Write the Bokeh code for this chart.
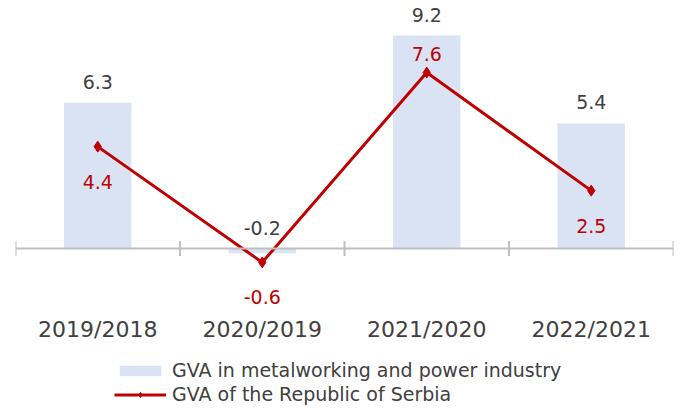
from bokeh.plotting import figure
from bokeh.models import Range1d, Span, ColumnDataSource, Legend, LegendItem
from bokeh.core.properties import value
from bokeh.embed import file_html
from bokeh.resources import INLINE

categories = ["2019/2018", "2020/2019", "2021/2020", "2022/2021"]
gva_metal = [6.3, -0.2, 9.2, 5.4]
gva_serbia = [4.4, -0.6, 7.6, 2.5]
serbia_label_side = ["below", "below", "above", "below"]

FONT = "DejaVu Sans"
BAR_COLOR = "#dae3f3"
LINE_COLOR = "#c00000"
TEXT_COLOR = "#404040"
AXIS_COLOR = "#bfbfbf"

xs = list(range(len(categories)))
px_per_unit = 23.15
zero_px = 248  # from frame top
frame_h = 408

p = figure(width=681, height=408, output_backend="svg", toolbar_location=None,
           x_axis_location=None, y_axis_location=None,
           x_range=Range1d(-0.5, len(categories) - 0.5),
           y_range=Range1d(-(frame_h - zero_px) / px_per_unit, zero_px / px_per_unit),
           min_border_left=15, min_border_right=8, min_border_top=0, min_border_bottom=0)
p.outline_line_color = None
p.xgrid.visible = False
p.ygrid.visible = False
p.background_fill_color = "white"
p.border_fill_color = "white"

bar_src = ColumnDataSource(dict(x=xs, top=gva_metal, lab=[f"{v:.1f}" for v in gva_metal],
                                ly=[max(v, 0) for v in gva_metal]))
bars = p.vbar(x="x", top="top", bottom=0, width=0.41, source=bar_src,
              fill_color=BAR_COLOR, line_color=None)

# zero axis line and category separator ticks
p.add_layout(Span(location=0, dimension="width", line_color=AXIS_COLOR, line_width=2))
bounds = [i - 0.5 for i in range(len(categories) + 1)]
tick = 7.5 / px_per_unit
p.segment(x0=bounds, x1=bounds, y0=[-tick] * len(bounds), y1=[tick] * len(bounds),
          line_color=AXIS_COLOR, line_width=2)

line_src = ColumnDataSource(dict(x=xs, y=gva_serbia, lab=[f"{v:.1f}" for v in gva_serbia],
                                 off=[-19 if s == "above" else 35 for s in serbia_label_side]))
ln = p.line(x="x", y="y", source=line_src, line_color=LINE_COLOR, line_width=3)
mk = p.scatter(x="x", y="y", source=line_src, marker="diamond", size=11,
               fill_color=LINE_COLOR, line_color=LINE_COLOR)

# bar value labels
p.text(x="x", y="ly", text="lab", source=bar_src, text_align="center", text_baseline="alphabetic",
       y_offset=-21, text_font=value(FONT), text_font_size="19px", text_color=TEXT_COLOR)
# line value labels
p.text(x="x", y="y", text="lab", source=line_src, text_align="center", text_baseline="alphabetic",
       y_offset="off", text_font=value(FONT), text_font_size="19px", text_color=LINE_COLOR)
# category labels
p.text(x=xs, y=[0] * len(xs), text=categories, text_align="center", text_baseline="alphabetic",
       y_offset=81, text_font=value(FONT), text_font_size="22px", text_color=TEXT_COLOR)

legend = Legend(items=[LegendItem(label="GVA in metalworking and power industry", renderers=[bars]),
                       LegendItem(label="GVA of the Republic of Serbia", renderers=[ln, mk])],
                location=(99, 3), orientation="vertical",
                glyph_width=52, glyph_height=13, label_height=13, spacing=2,
                padding=0, margin=0, label_standoff=6,
                label_text_font=FONT, label_text_font_size="19px", label_text_color=TEXT_COLOR,
                border_line_color=None, background_fill_alpha=0)
p.add_layout(legend)

open("out.html", "w").write(file_html(p, INLINE))
